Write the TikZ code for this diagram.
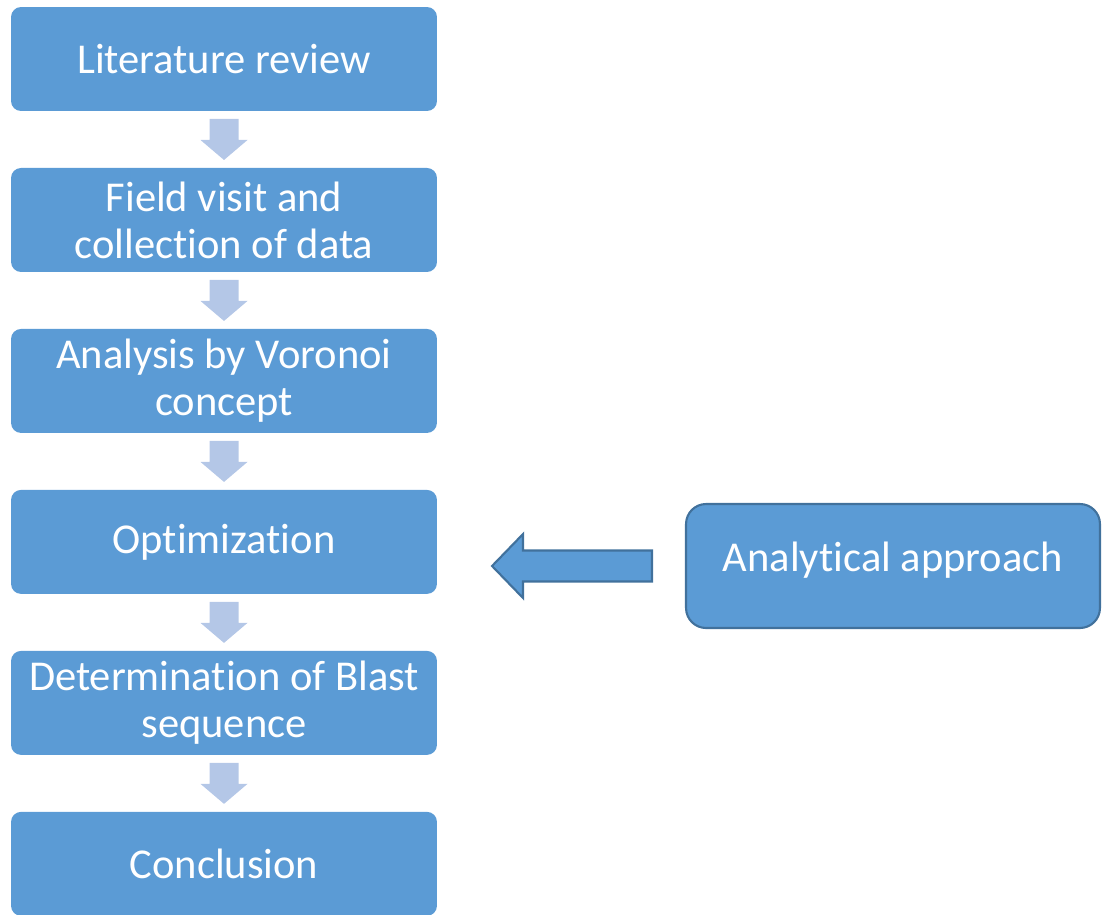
\documentclass[tikz,border=0pt]{standalone}
\usepackage{fontspec}
\setmainfont{Carlito}[Ligatures=NoCommon]
\usepackage{xcolor}
\usetikzlibrary{positioning, calc}
\definecolor{boxblue}{HTML}{5B9BD5}
\definecolor{lightblue}{HTML}{B4C7E7}
\definecolor{edgeblue}{HTML}{41719C}
\tikzset{
    node distance=1.14cm, % gap between two steps
    stepbox/.style={fill=boxblue, text=white, rounded corners=0.2cm, minimum width=8.52cm, minimum height=2.08cm, align=center, inner sep=0pt, outer sep=0pt, font=\fontsize{24.2}{26.7}\selectfont}, % the steps on the left
    sidebox/.style={stepbox, draw=edgeblue, line width=1.2pt, rounded corners=0.4cm, minimum width=8.28cm, minimum height=2.48cm}, % the box on the right
    bigarrow/.style={fill=boxblue, draw=edgeblue, line width=1.2pt}, % the block arrow
}
% light block arrow from one step down to the next
\newcommand{\flowarrow}[2]{
    \fill[lightblue] ($(#1.south)+(-14.5,-8)$) -- ($(#1.south)+(14.5,-8)$) -- ($(#1.south)+(14.5,-29)$) -- ($(#1.south)+(23.5,-29)$) -- ($(#2.north)+(0,8)$) -- ($(#1.south)+(-23.5,-29)$) -- ($(#1.south)+(-14.5,-29)$) -- cycle;
}
\begin{document}
\begin{tikzpicture}[x=0.02cm, y=0.02cm]
    \useasboundingbox (0,0) rectangle (1109,-914);
    % steps
    \node[stepbox] (lit) at (224,-59) {Literature review};
    \node[stepbox, below=of lit] (field) {Field visit and\\collection of data};
    \node[stepbox, below=of field] (voronoi) {Analysis by Voronoi\\concept};
    \node[stepbox, below=of voronoi] (opt) {Optimization};
    \node[stepbox, below=of opt] (blast) {Determination of Blast\\sequence};
    \node[stepbox, below=of blast] (concl) {Conclusion};
    \node[sidebox] (ana) at (893,-566) {\raisebox{0.36cm}{Analytical approach}};
    % arrows
    \flowarrow{lit}{field}
    \flowarrow{field}{voronoi}
    \flowarrow{voronoi}{opt}
    \flowarrow{opt}{blast}
    \flowarrow{blast}{concl}
    \filldraw[bigarrow] ($(ana.west)+(-34,15.5)$) -- ($(ana.west)+(-163,15.5)$) -- ($(ana.west)+(-163,32)$) -- ($(ana.west)+(-194,0)$) -- ($(ana.west)+(-163,-32)$) -- ($(ana.west)+(-163,-15.5)$) -- ($(ana.west)+(-34,-15.5)$) -- cycle;
\end{tikzpicture}
\end{document}
